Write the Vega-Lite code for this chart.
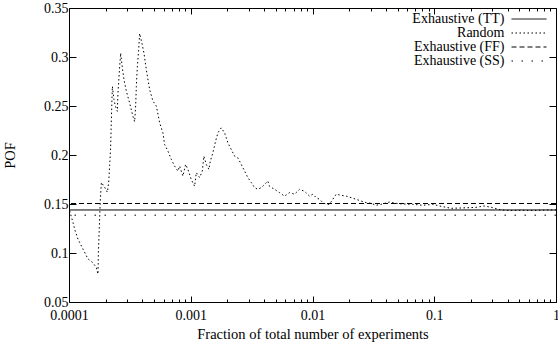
{
  "$schema": "https://vega.github.io/schema/vega-lite/v6.json",
  "width": 487,
  "height": 294,
  "autosize": "none",
  "padding": {"left": 69, "top": 8, "right": 2, "bottom": 45},
  "config": {
    "view": {"stroke": "black", "strokeWidth": 1},
    "font": "Liberation Serif",
    "axis": {
      "domain": false, "grid": false,
      "labelFont": "Liberation Serif", "labelFontSize": 14, "labelColor": "black",
      "titleFont": "Liberation Serif", "titleFontSize": 14.5, "titleFontWeight": "normal", "titleColor": "black",
      "tickColor": "black", "tickWidth": 1
    }
  },
  "datasets": {
    "random": [
      {"x": 0.0001013, "pof": 0.143}, {"x": 0.0001079, "pof": 0.131}, {"x": 0.0001114, "pof": 0.124},
      {"x": 0.0001186, "pof": 0.114}, {"x": 0.0001303, "pof": 0.104}, {"x": 0.0001432, "pof": 0.094},
      {"x": 0.0001574, "pof": 0.090}, {"x": 0.0001679, "pof": 0.085}, {"x": 0.000173, "pof": 0.0785},
      {"x": 0.0001743, "pof": 0.1005}, {"x": 0.0001776, "pof": 0.128}, {"x": 0.000181, "pof": 0.155},
      {"x": 0.0001845, "pof": 0.172}, {"x": 0.0001963, "pof": 0.167}, {"x": 0.0002066, "pof": 0.162},
      {"x": 0.0002118, "pof": 0.172}, {"x": 0.0002158, "pof": 0.189}, {"x": 0.0002199, "pof": 0.209},
      {"x": 0.0002228, "pof": 0.236}, {"x": 0.0002271, "pof": 0.270}, {"x": 0.000234, "pof": 0.2565},
      {"x": 0.0002403, "pof": 0.250}, {"x": 0.0002495, "pof": 0.2446}, {"x": 0.0002524, "pof": 0.263},
      {"x": 0.0002607, "pof": 0.290}, {"x": 0.0002657, "pof": 0.304}, {"x": 0.0002723, "pof": 0.292},
      {"x": 0.0002828, "pof": 0.277}, {"x": 0.0002959, "pof": 0.265}, {"x": 0.0003149, "pof": 0.253},
      {"x": 0.0003252, "pof": 0.246}, {"x": 0.0003352, "pof": 0.2395}, {"x": 0.0003461, "pof": 0.234},
      {"x": 0.0003527, "pof": 0.250}, {"x": 0.0003574, "pof": 0.270}, {"x": 0.0003642, "pof": 0.290},
      {"x": 0.0003733, "pof": 0.307}, {"x": 0.0003804, "pof": 0.324}, {"x": 0.0003973, "pof": 0.314},
      {"x": 0.0004126, "pof": 0.304}, {"x": 0.0004317, "pof": 0.287}, {"x": 0.0004596, "pof": 0.2667},
      {"x": 0.0004892, "pof": 0.255}, {"x": 0.0005216, "pof": 0.250}, {"x": 0.0005551, "pof": 0.233},
      {"x": 0.0005907, "pof": 0.2226}, {"x": 0.00061, "pof": 0.2107}, {"x": 0.0006494, "pof": 0.204},
      {"x": 0.0006924, "pof": 0.1955}, {"x": 0.0007369, "pof": 0.1887}, {"x": 0.0007843, "pof": 0.1836},
      {"x": 0.00081, "pof": 0.1887}, {"x": 0.0008622, "pof": 0.1785}, {"x": 0.0009073, "pof": 0.1904},
      {"x": 0.0009475, "pof": 0.1853}, {"x": 0.0010104, "pof": 0.175}, {"x": 0.0010755, "pof": 0.168},
      {"x": 0.0011105, "pof": 0.182}, {"x": 0.001182, "pof": 0.177}, {"x": 0.001244, "pof": 0.1836},
      {"x": 0.001282, "pof": 0.1988}, {"x": 0.001341, "pof": 0.1904}, {"x": 0.001409, "pof": 0.1853},
      {"x": 0.001447, "pof": 0.1937}, {"x": 0.00152, "pof": 0.2023}, {"x": 0.001599, "pof": 0.214},
      {"x": 0.00167, "pof": 0.2226}, {"x": 0.001781, "pof": 0.2277}, {"x": 0.001896, "pof": 0.2226},
      {"x": 0.002018, "pof": 0.2125}, {"x": 0.002152, "pof": 0.2056}, {"x": 0.002291, "pof": 0.1988},
      {"x": 0.002438, "pof": 0.197}, {"x": 0.002599, "pof": 0.1904}, {"x": 0.002767, "pof": 0.1836},
      {"x": 0.002944, "pof": 0.177}, {"x": 0.00314, "pof": 0.172}, {"x": 0.003342, "pof": 0.1667},
      {"x": 0.003557, "pof": 0.165}, {"x": 0.003793, "pof": 0.1667}, {"x": 0.004038, "pof": 0.170},
      {"x": 0.004298, "pof": 0.1734}, {"x": 0.004438, "pof": 0.168}, {"x": 0.004877, "pof": 0.165},
      {"x": 0.005361, "pof": 0.1616}, {"x": 0.005891, "pof": 0.158}, {"x": 0.006477, "pof": 0.1616},
      {"x": 0.007118, "pof": 0.160}, {"x": 0.007824, "pof": 0.165}, {"x": 0.008601, "pof": 0.163},
      {"x": 0.00945, "pof": 0.158}, {"x": 0.010058, "pof": 0.160}, {"x": 0.010725, "pof": 0.1565},
      {"x": 0.011415, "pof": 0.1548}, {"x": 0.012149, "pof": 0.1514}, {"x": 0.012957, "pof": 0.1497},
      {"x": 0.01379, "pof": 0.1497}, {"x": 0.014677, "pof": 0.1548}, {"x": 0.015647, "pof": 0.160},
      {"x": 0.017199, "pof": 0.1589}, {"x": 0.018907, "pof": 0.158}, {"x": 0.02078, "pof": 0.1565},
      {"x": 0.02284, "pof": 0.1548}, {"x": 0.0251, "pof": 0.153}, {"x": 0.02759, "pof": 0.1514},
      {"x": 0.03032, "pof": 0.1507}, {"x": 0.03333, "pof": 0.1487}, {"x": 0.03663, "pof": 0.1497},
      {"x": 0.04284, "pof": 0.152}, {"x": 0.04864, "pof": 0.1507}, {"x": 0.0551, "pof": 0.150},
      {"x": 0.06655, "pof": 0.1497}, {"x": 0.08042, "pof": 0.1487}, {"x": 0.09712, "pof": 0.1497},
      {"x": 0.1102, "pof": 0.148}, {"x": 0.1375, "pof": 0.1456}, {"x": 0.1712, "pof": 0.146},
      {"x": 0.2205, "pof": 0.1466}, {"x": 0.258, "pof": 0.148}, {"x": 0.3018, "pof": 0.1463},
      {"x": 0.3537, "pof": 0.1439}, {"x": 0.4137, "pof": 0.1433}, {"x": 0.5319, "pof": 0.1436},
      {"x": 0.6427, "pof": 0.1433}, {"x": 0.8279, "pof": 0.1439}, {"x": 1.0, "pof": 0.1439}
    ],
    "hlines": [
      {"series": "Exhaustive (TT)", "pof": 0.1439},
      {"series": "Exhaustive (FF)", "pof": 0.1505},
      {"series": "Exhaustive (SS)", "pof": 0.1386}
    ]
  },
  "layer": [
    {
      "data": {"name": "random"},
      "mark": {"type": "line", "color": "black", "strokeWidth": 1, "clip": true},
      "encoding": {
        "x": {
          "field": "x", "type": "quantitative",
          "scale": {"type": "log", "domain": [0.0001, 1], "nice": false},
          "axis": {
            "orient": "bottom", "title": "Fraction of total number of experiments",
            "values": [0.0001,0.0002,0.0003,0.0004,0.0005,0.0006,0.0007,0.0008,0.0009,0.001,0.002,0.003,0.004,0.005,0.006,0.007,0.008,0.009,0.01,0.02,0.03,0.04,0.05,0.06,0.07,0.08,0.09,0.1,0.2,0.3,0.4,0.5,0.6,0.7,0.8,0.9,1],
            "labelExpr": "abs(log(datum.value)/LN10 - round(log(datum.value)/LN10)) < 0.001 ? datum.value + '' : ''",
            "tickSize": {"condition": {"test": "abs(log(datum.value)/LN10 - round(log(datum.value)/LN10)) < 0.001", "value": -6}, "value": -3},
            "labelPadding": 12, "titlePadding": 2, "labelFlush": false, "labelOverlap": false
          }
        },
        "y": {
          "field": "pof", "type": "quantitative",
          "scale": {"domain": [0.05, 0.35], "nice": false, "zero": false},
          "axis": {
            "orient": "left", "title": "POF",
            "values": [0.05, 0.1, 0.15, 0.2, 0.25, 0.3, 0.35],
            "format": ".2~f", "tickSize": -7, "labelPadding": 8, "titlePadding": 26
          }
        },
        "strokeDash": {
          "datum": "Random", "type": "nominal", "title": null,
          "scale": {
            "domain": ["Exhaustive (TT)", "Random", "Exhaustive (FF)", "Exhaustive (SS)"],
            "range": [[1, 0], [1.5, 2.5], [5, 3], [1.5, 8.5]]
          },
          "legend": {
            "orient": "none", "legendX": 453, "legendY": 4, "title": null,
            "symbolType": "M-17.5,0H17.5", "symbolSize": 4, "symbolStrokeColor": "black", "symbolStrokeWidth": 1,
            "labelAlign": "right", "labelOffset": -31.5,
            "labelFont": "Liberation Serif", "labelFontSize": 14, "labelColor": "black",
            "rowPadding": 0, "padding": 0
          }
        }
      }
    },
    {
      "data": {"name": "hlines"},
      "mark": {"type": "rule", "color": "black", "strokeWidth": 1},
      "encoding": {
        "y": {"field": "pof", "type": "quantitative", "axis": null},
        "strokeDash": {"field": "series", "type": "nominal", "title": null}
      }
    },
    {
      "data": {"name": "random"},
      "mark": {"type": "point", "opacity": 0},
      "encoding": {
        "x": {
          "field": "x", "type": "quantitative",
          "scale": {"type": "log", "domain": [0.0001, 1], "nice": false},
          "axis": {
            "orient": "top", "title": null, "labels": false,
            "values": [0.0001,0.0002,0.0003,0.0004,0.0005,0.0006,0.0007,0.0008,0.0009,0.001,0.002,0.003,0.004,0.005,0.006,0.007,0.008,0.009,0.01,0.02,0.03,0.04,0.05,0.06,0.07,0.08,0.09,0.1,0.2,0.3,0.4,0.5,0.6,0.7,0.8,0.9,1],
            "tickSize": {"condition": {"test": "abs(log(datum.value)/LN10 - round(log(datum.value)/LN10)) < 0.001", "value": -6}, "value": -3}
          }
        },
        "y": {
          "field": "pof", "type": "quantitative",
          "axis": {
            "orient": "right", "title": null, "labels": false,
            "values": [0.05, 0.1, 0.15, 0.2, 0.25, 0.3, 0.35], "tickSize": -7
          }
        }
      }
    }
  ],
  "resolve": {"axis": {"x": "independent", "y": "independent"}}
}
